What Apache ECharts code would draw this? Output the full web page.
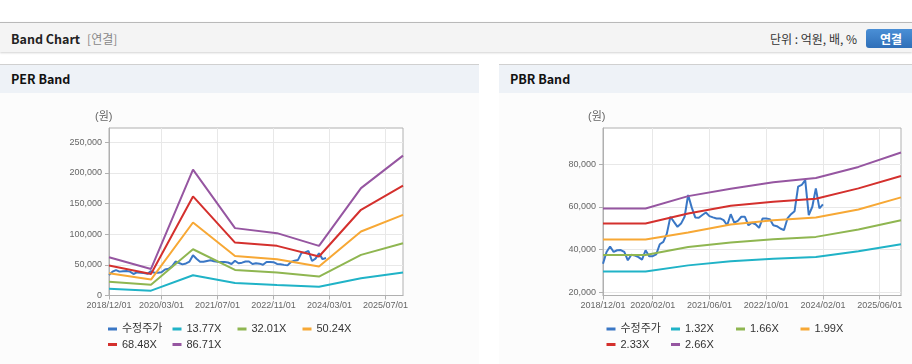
<!DOCTYPE html>
<html>
<head>
<meta charset="utf-8">
<script src="https://cdn.jsdelivr.net/npm/echarts@6/dist/echarts.min.js"></script>
<style>
body { margin: 0; width: 912px; height: 364px; overflow: hidden; background: #fff; position: relative;
       font-family: "Noto Sans CJK KR", "Liberation Sans", sans-serif; }
.topbar { position: absolute; left: 0; top: 22px; width: 912px; height: 29px; border-top: 1px solid #b9b9b9;
          background: #f4f4f4; box-shadow: 0 1px 2px rgba(0,0,0,.18); }
.topbar .t { position: absolute; left: 11px; top: 6px; font-size: 12.5px; font-weight: bold; color: #222; }
.topbar .t span { font-weight: normal; color: #888; font-size: 12px; margin-left: 7px; }
.topbar .unit { position: absolute; left: 770px; top: 7px; font-size: 12px; color: #333; }
.topbar .btn { position: absolute; left: 866px; top: 6px; width: 50px; height: 19px; border-radius: 3px;
               background: linear-gradient(#4a8fd6, #2f6fb8); color: #fff; font-size: 12px; font-weight: bold;
               text-align: center; line-height: 19px; }
.panel { position: absolute; top: 64px; height: 300px; background: #fcfcfc; }
.panel .hd { height: 28px; border-top: 1px solid #d0d0d0; background: #eef2f7; font-size: 12.5px;
             font-weight: bold; color: #111; padding-left: 11px; line-height: 28px; }
#chart { position: absolute; left: 0; top: 0; width: 912px; height: 364px; }
</style>
</head>
<body>
<div class="topbar"><div class="t">Band Chart<span>[연결]</span></div><div class="unit">단위 : 억원, 배, %</div><div class="btn">연결</div></div>
<div class="panel" style="left:0;width:479px"><div class="hd">PER Band</div></div>
<div class="panel" style="left:499px;width:413px"><div class="hd">PBR Band</div></div>
<div id="chart"></div>
<script>
// 월별 카테고리 2018/12 ~ 2025/12
var months = [];
for (var i = 0; i < 85; i++) {
    var t = 2018 * 12 + 11 + i;
    var mm = t % 12 + 1;
    months.push(Math.floor(t / 12) + '/' + (mm < 10 ? '0' + mm : mm) + '/01');
}

// 축 라벨
var perTicks = ['2018/12/01', '2020/03/01', '2021/07/01', '2022/11/01', '2024/03/01', '2025/07/01'];
var pbrTicks = ['2018/12/01', '2020/02/01', '2021/06/01', '2022/10/01', '2024/02/01', '2025/06/01'];
var perYTicks = [0, 50000, 100000, 150000, 200000, 250000];
var pbrYTicks = [20000, 40000, 60000, 80000];

// 수정주가 (월별)
var price = [33400, 38900, 41500, 38900, 39700, 39800, 38900, 35000, 37600, 37200,
             36500, 35300, 39700, 36900, 36900, 37800, 42500, 43600, 47500, 55400,
             53000, 50700, 52200, 55400, 65600, 59800, 55100, 54900, 56200, 57400,
             55700, 55100, 54600, 54600, 53800, 51400, 56600, 52600, 53500, 55400,
             55400, 51400, 52600, 51900, 50200, 54600, 54600, 54300, 51400, 51000,
             49900, 49100, 54600, 56600, 58000, 69500, 70300, 72600, 56200, 60100,
             68700, 59300, 61200];

// 밴드 꺾임 지점 (연간)
var knots = ['2018/12/01', '2019/12/01', '2020/12/01', '2021/12/01', '2022/12/01', '2023/12/01', '2024/12/01', '2025/12/01'];

var per1377 = [11200, 7900, 33000, 20200, 17200, 14400, 28100, 37300];
var per3201 = [22600, 17700, 75400, 41700, 37300, 30800, 66200, 85200];
var per5024 = [36200, 25900, 119000, 64500, 59100, 47100, 104300, 131500];
var per6848 = [48750, 35100, 161500, 86300, 80900, 63500, 139700, 178900];
var per8671 = [62400, 43300, 205100, 109800, 101600, 80900, 175000, 228000];

var pbr132 = [29790, 29790, 32620, 34500, 35750, 36550, 39220, 42500];
var pbr166 = [37480, 37480, 41250, 43300, 44870, 45970, 49420, 53810];
var pbr199 = [44700, 44700, 48000, 51750, 53800, 55050, 58830, 64480];
var pbr233 = [52240, 52240, 56970, 60580, 62430, 63850, 68700, 74520];
var pbr266 = [59300, 59300, 65070, 68570, 71530, 73570, 78760, 85500];

var colors = ['#3a77c5', '#20b3c7', '#8fb651', '#f7a835', '#d4302d', '#9656a1'];
var latin = '"Liberation Sans", "Noto Sans CJK KR", sans-serif';

function pairs(vals) {
    return knots.map(function (d, i) { return [d, vals[i]]; });
}

function xAxisFor(gi, ticks) {
    var pick = function (idx, val) { return ticks.indexOf(val) >= 0; };
    return {
        type: 'category', gridIndex: gi, data: months, boundaryGap: false,
        axisLine: { lineStyle: { color: '#b0b0b0' } },
        axisTick: { show: true, interval: pick, length: 4, lineStyle: { color: '#b0b0b0' } },
        axisLabel: { interval: pick, hideOverlap: false, color: '#666', fontSize: 9, margin: 6, fontFamily: latin },
        splitLine: {
            show: true, lineStyle: { color: '#e8e8e8' },
            interval: function (idx, val) { return idx > 0 && pick(idx, val); }
        }
    };
}

function yAxisFor(gi, min, max, ticks) {
    return {
        type: 'value', gridIndex: gi, min: min, max: max,
        axisLine: { show: true, onZero: false, lineStyle: { color: '#b0b0b0' } },
        axisTick: { show: true, length: 4, customValues: ticks, lineStyle: { color: '#b0b0b0' } },
        axisLabel: {
            customValues: ticks, color: '#666', fontSize: 9, margin: 7, fontFamily: latin,
            formatter: function (v) { return v.toLocaleString('en-US'); }
        },
        splitLine: { show: true, lineStyle: { color: '#e8e8e8' } }
    };
}

function line(name, data, color, xi) {
    return {
        name: name, type: 'line', xAxisIndex: xi, yAxisIndex: xi, data: data,
        showSymbol: false, symbol: 'none', color: color,
        lineStyle: { width: 2, color: color }
    };
}

var legends = [];
function addLegend(name, left, top) {
    legends.push({
        data: [name], left: left, top: top, padding: 0, icon: 'rect',
        itemWidth: 9, itemHeight: 3, selectedMode: false,
        textStyle: { fontSize: 11, color: '#333', fontFamily: latin }
    });
}
addLegend('수정주가', 108, 323.5);
addLegend('13.77X', 172.5, 323.5);
addLegend('32.01X', 237.5, 323.5);
addLegend('50.24X', 302.5, 323.5);
addLegend('68.48X', 108, 339);
addLegend('86.71X', 172.5, 339);
addLegend('수정주가', 606.5, 323.5);
addLegend('1.32X', 671, 323.5);
addLegend('1.66X', 736, 323.5);
addLegend('1.99X', 800.5, 323.5);
addLegend('2.33X', 606.5, 339);
addLegend('2.66X', 671, 339);

var chart = echarts.init(document.getElementById('chart'));
chart.setOption({
    animation: false,
    grid: [
        { left: 109, top: 128, width: 294, height: 167.5, show: true, borderColor: '#b0b0b0', backgroundColor: '#fff' },
        { left: 603, top: 128, width: 298, height: 167.5, show: true, borderColor: '#b0b0b0', backgroundColor: '#fff' }
    ],
    xAxis: [xAxisFor(0, perTicks), xAxisFor(1, pbrTicks)],
    yAxis: [yAxisFor(0, 0, 273000, perYTicks), yAxisFor(1, 18500, 97000, pbrYTicks)],
    legend: legends,
    graphic: [
        { type: 'text', left: 95, top: 111, style: { text: '(원)', fontSize: 11, fill: '#666', fontFamily: latin } },
        { type: 'text', left: 588, top: 111, style: { text: '(원)', fontSize: 11, fill: '#666', fontFamily: latin } }
    ],
    series: [
        line('수정주가', price, colors[0], 0),
        line('13.77X', pairs(per1377), colors[1], 0),
        line('32.01X', pairs(per3201), colors[2], 0),
        line('50.24X', pairs(per5024), colors[3], 0),
        line('68.48X', pairs(per6848), colors[4], 0),
        line('86.71X', pairs(per8671), colors[5], 0),
        line('수정주가', price, colors[0], 1),
        line('1.32X', pairs(pbr132), colors[1], 1),
        line('1.66X', pairs(pbr166), colors[2], 1),
        line('1.99X', pairs(pbr199), colors[3], 1),
        line('2.33X', pairs(pbr233), colors[4], 1),
        line('2.66X', pairs(pbr266), colors[5], 1)
    ]
});
</script>
</body>
</html>
